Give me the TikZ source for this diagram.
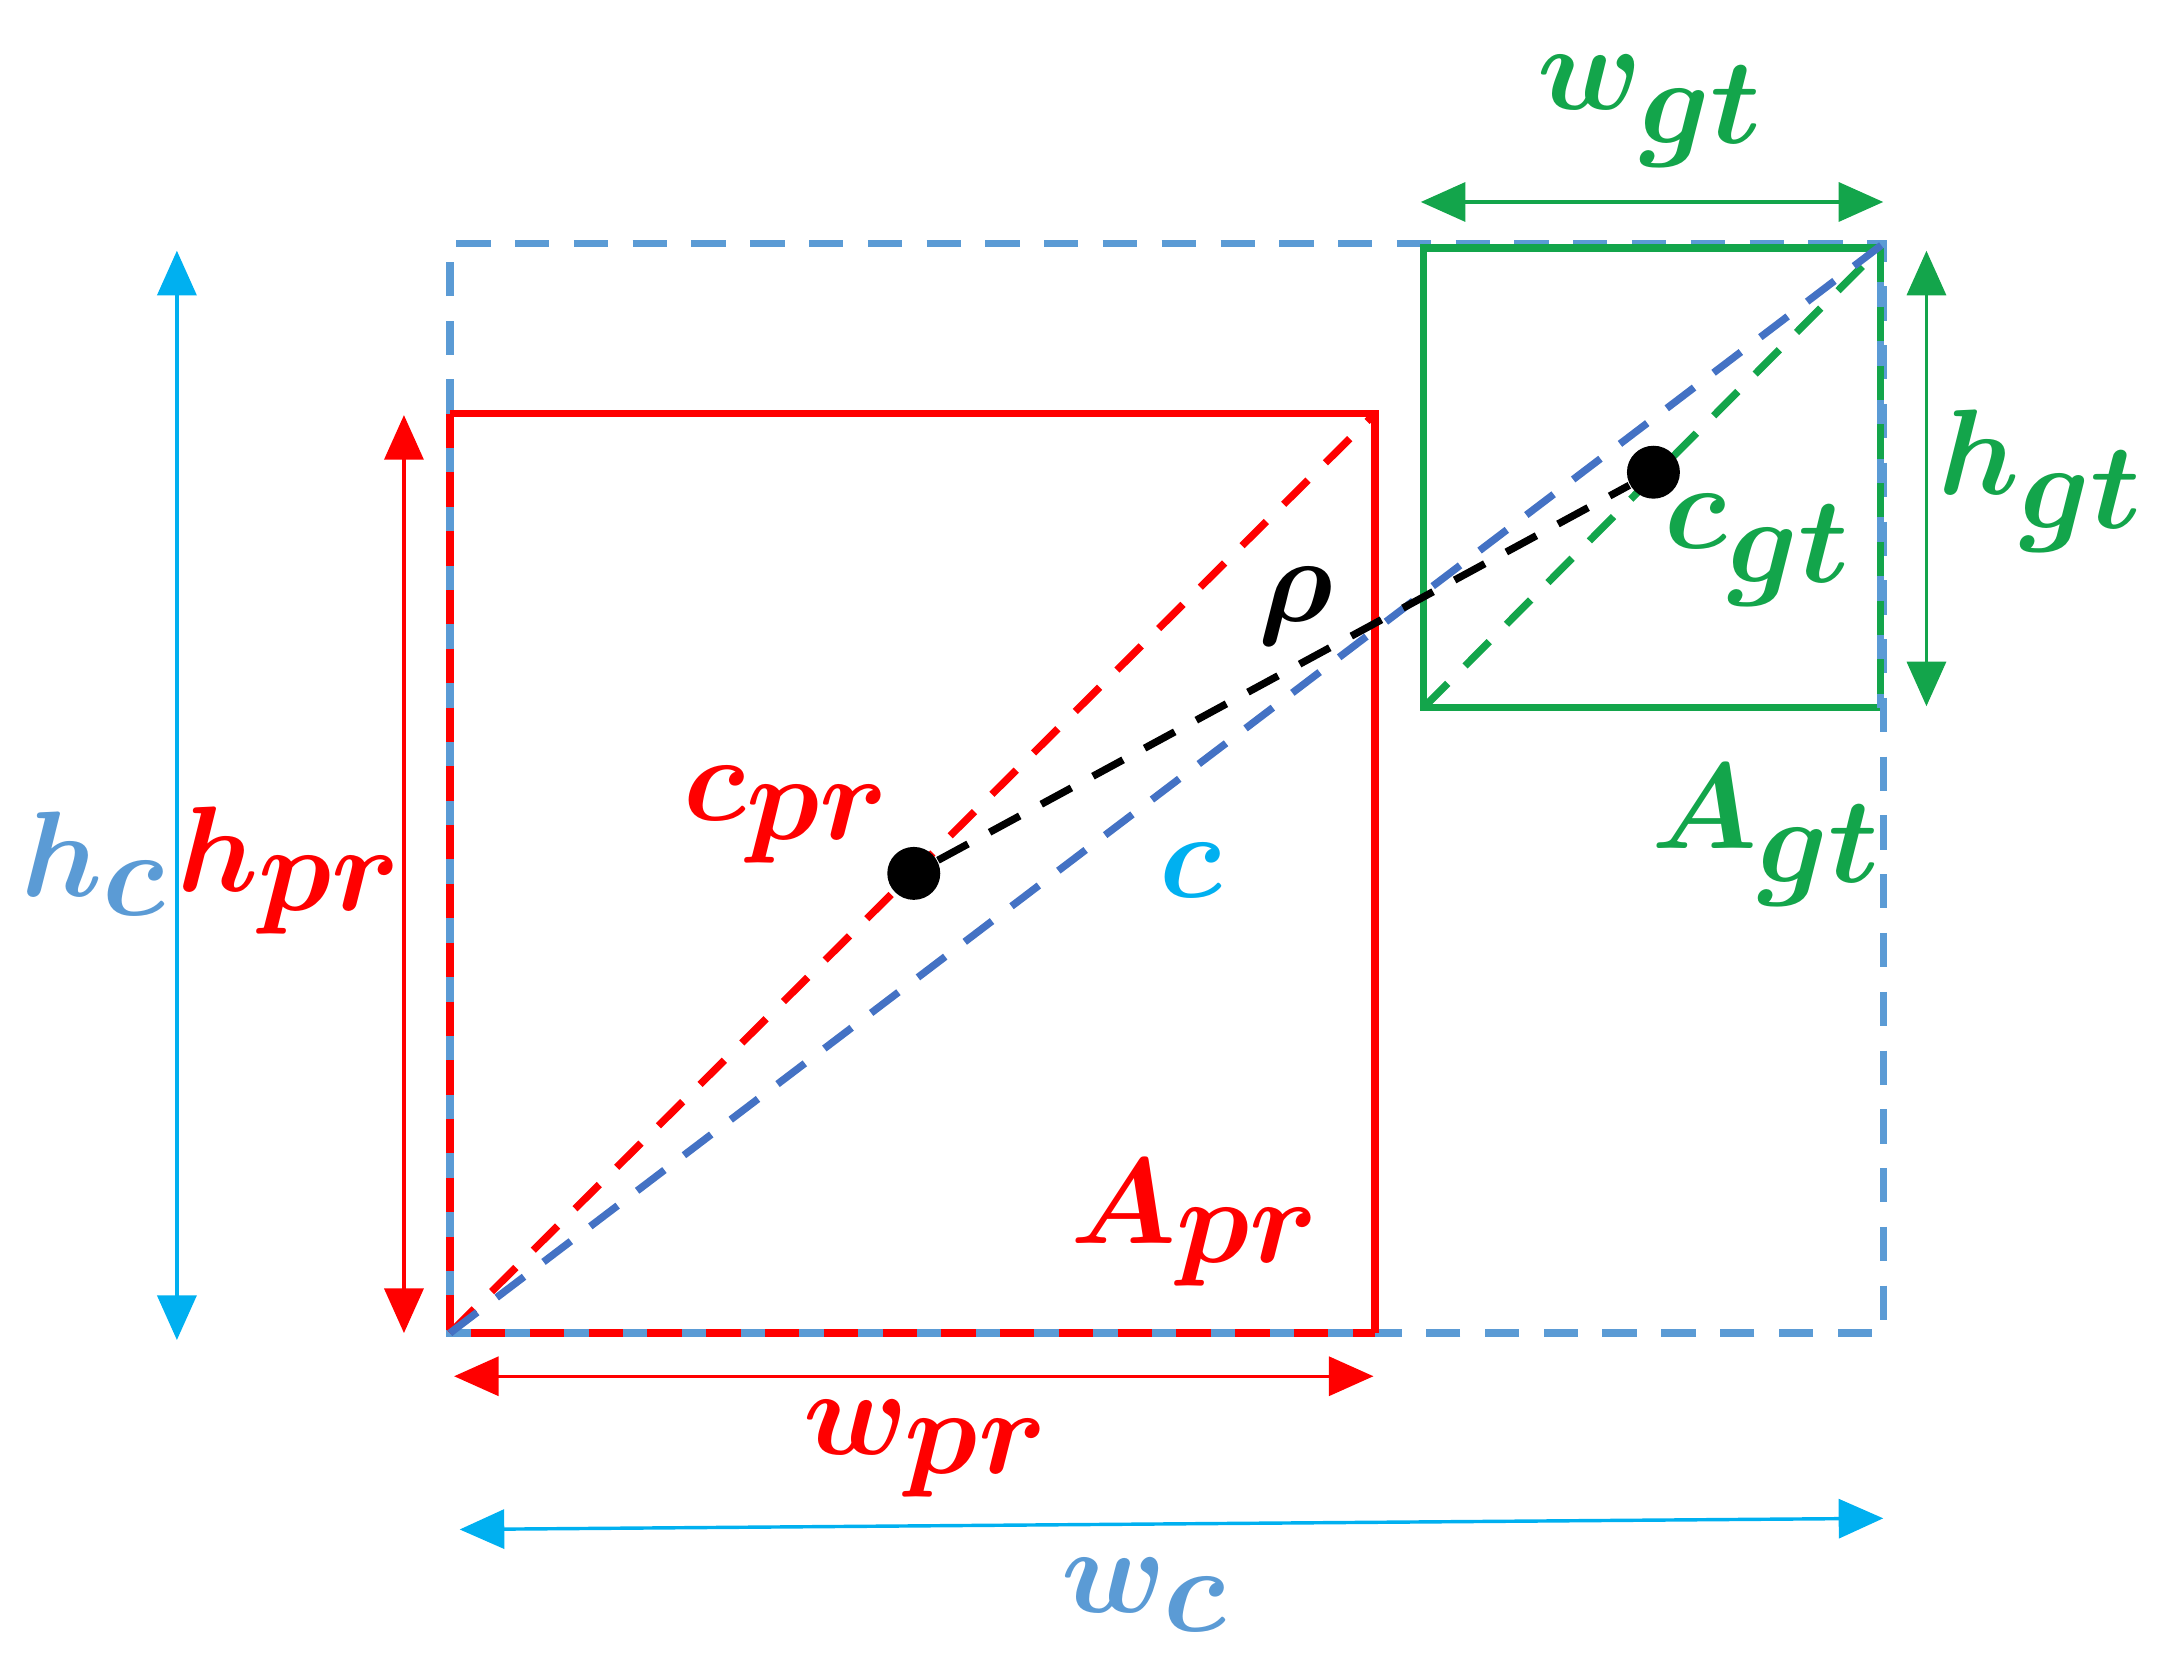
\documentclass[tikz,border=0pt]{standalone}
\usepackage{amsmath}
\usepackage{tikz}
\usetikzlibrary{arrows.meta}

\definecolor{boxred}{HTML}{FF0000}
\definecolor{boxgreen}{HTML}{13A54B}
\definecolor{boxblue}{HTML}{5B9BD5}
\definecolor{diagblue}{HTML}{4472C4}
\definecolor{dimcyan}{HTML}{00B0F0}

\tikzset{
  box/.style={line width=1.5pt},
  diag/.style={line width=1.5pt, dash pattern=on 7pt off 5pt},
  dim/.style={line width=0.7pt, {Triangle[length=0.32cm,width=0.28cm]}-{Triangle[length=0.32cm,width=0.28cm]}},
  lbl/.style={font=\fontsize{36}{40}\selectfont, inner sep=0pt},
  dot/.style={circle, fill=black, minimum size=0.38cm, inner sep=0pt}
}

\begin{document}
\begin{tikzpicture}[x=0.01cm, y=-0.01cm]
\useasboundingbox (0,0) rectangle (1560,1200);

% corners
\coordinate (cSW) at (323,957);
\coordinate (cNE) at (1352,175);
\coordinate (cNW) at (323,175);
\coordinate (cSE) at (1352,957);
\coordinate (prNE) at (987,297);
\coordinate (prNW) at (323,297);
\coordinate (prSE) at (987,957);
\coordinate (gtSW) at (1022,508);
\coordinate (gtNE) at (1350,178);
\coordinate (gtSE) at (1350,508);

% enclosing box and boxes
\draw[boxblue, diag] (prNW) -- (cNW) -- (cNE) -- (cSE) -- (prSE);
\draw[boxred, box] (prNW) -- (prNE) -- (prSE);
\draw[boxblue, box] (prNW) -- (cSW) -- (prSE);
\draw[boxred, diag] (prNW) -- (cSW) -- (prSE);
\draw[boxgreen, box] (gtNE) -- (1022,178) -- (gtSW) -- (gtSE);
\draw[boxblue, box] (gtNE) -- (gtSE);
\draw[boxgreen, diag] (gtNE) -- (gtSE);

% diagonals
\draw[boxred, diag] (cSW) -- (prNE);
\draw[boxgreen, diag] (gtSW) -- (gtNE);
\draw[diagblue, diag] (cSW) -- (cNE);

% centres
\node[dot] (cpr) at (656,627) {};
\node[dot] (cgt) at (1187,339) {};
\draw[black, diag] (cpr) -- (cgt);

% dimension arrows
\coordinate (hcT) at (127,180);  \coordinate (hcB) at (127,962);
\coordinate (hprT) at (290,298); \coordinate (hprB) at (290,957);
\coordinate (wprL) at (326,988); \coordinate (wprR) at (986,988);
\coordinate (wcL) at (330,1098); \coordinate (wcR) at (1352,1090);
\coordinate (wgtL) at (1020,145); \coordinate (wgtR) at (1352,145);
\coordinate (hgtT) at (1383,180); \coordinate (hgtB) at (1383,507);
\draw[dimcyan, dim] (hcT) -- (hcB);
\draw[boxred, dim] (hprT) -- (hprB);
\draw[boxred, dim] (wprL) -- (wprR);
\draw[dimcyan, dim] (wcL) -- (wcR);
\draw[boxgreen, dim] (wgtL) -- (wgtR);
\draw[boxgreen, dim] (hgtT) -- (hgtB);

% labels
\node[lbl, boxblue] (hc) at (68,620) {$\boldsymbol{h_c}$};
\node[lbl, boxred] (hpr) at (208,625) {$\boldsymbol{h_{pr}}$};
\node[lbl, boxred] (wpr) at (665,1040) {$\boldsymbol{w_{pr}}$};
\node[lbl, boxblue] (wc) at (822,1145) {$\boldsymbol{w_c}$};
\node[lbl, boxgreen] (wgt) at (1185,80) {$\boldsymbol{w_{gt}}$};
\node[lbl, boxgreen] (hgt) at (1465,345) {$\boldsymbol{h_{gt}}$};
\node[lbl, black] (rho) at (930,435) {$\boldsymbol{\rho}$};
\node[lbl, boxred] (cprl) at (565,585) {$\boldsymbol{c_{pr}}$};
\node[lbl, dimcyan] (cl) at (855,625) {$\boldsymbol{c}$};
\node[lbl, boxgreen] (cgtl) at (1262,395) {$\boldsymbol{c_{gt}}$};
\node[lbl, boxgreen] (Agt) at (1268,600) {$\boldsymbol{A_{gt}}$};
\node[lbl, boxred] (Apr) at (858,878) {$\boldsymbol{A_{pr}}$};

\end{tikzpicture}
\end{document}
